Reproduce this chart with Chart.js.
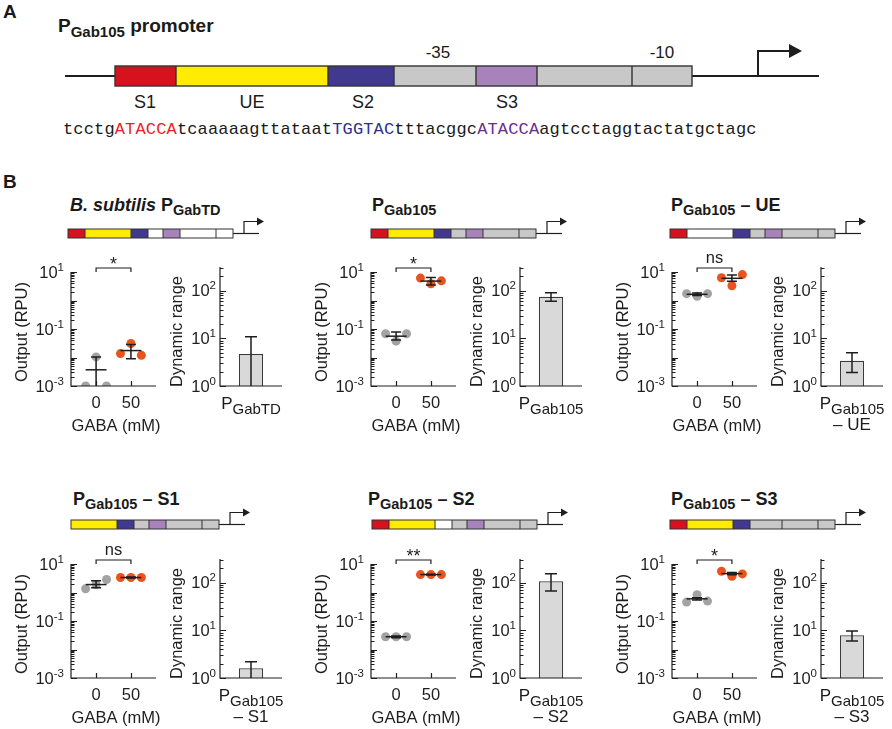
<!DOCTYPE html>
<html>
<head>
<meta charset="utf-8">
<title>PGab105 promoter variants</title>
<script src="https://cdn.jsdelivr.net/npm/chart.js@4.4.1/dist/chart.umd.min.js"></script>
<style>
  html, body { margin: 0; padding: 0; background: #fff; }
  #figure { position: relative; width: 892px; height: 729px; overflow: hidden;
    font-family: 'Liberation Sans', Arial, Helvetica, sans-serif; color: #1a1a1a; }
  #figure canvas, #figure svg, .lbl { position: absolute; }
  .lbl { white-space: nowrap; }
  .lo { position: relative; }
  .mono { font-family: 'Liberation Mono', 'Courier New', monospace; letter-spacing: 0.15px; }
</style>
</head>
<body>
<div id="figure">
  <svg id="diagrams" width="892" height="729" style="left:0;top:0"></svg>
</div>
<script>
// Values
const constructs = ['PGabTD', 'PGab105', 'PGab105 - UE', 'PGab105 - S1', 'PGab105 - S2', 'PGab105 - S3'];
const doses = [0, 50];
const out0 = [[0.001, 0.0105, 0.001], [0.068, 0.0375, 0.068], [1.74, 1.41, 1.74],
              [1.35, 1.91, 2.85], [0.028, 0.028, 0.028], [0.46, 0.83, 0.50]];
const out50 = [[0.0137, 0.031, 0.0119], [6.1, 3.85, 4.9], [6.3, 3.3, 8.1],
               [3.35, 3.35, 3.35], [4.26, 4.26, 4.26], [5.56, 3.72, 4.48]];
const mean0 = [0.0037, 0.056, 1.65, 1.9, 0.028, 0.6];
const mean50 = [0.0175, 4.8, 6.0, 3.35, 4.26, 4.6];
const errLow0 = [null, 0.041, 1.5, 1.47, 0.026, 0.55];
const errHigh0 = [0.0105, 0.078, 1.85, 2.6, 0.030, 0.66];
const errLow50 = [0.0091, 3.5, 4.7, 3.2, 4.1, 4.2];
const errHigh50 = [0.0286, 6.4, 7.8, 3.5, 4.4, 5.0];
const dynRange = [4.7, 75, 3.4, 1.6, 108, 7.9];
const dynLow = [null, 60, 1.93, null, 67, 6.0];
const dynHigh = [10.8, 91, 5.0, 2.2, 154, 9.7];
const signif = ['*', '*', 'ns', 'ns', '**', '*'];
const outTicks = [0.001, 0.1, 10];
const dynTicks = [1, 10, 100];
const dynAxisMax = 316;

// Construct maps (which element sits in each slot)
const constructParts = [
  ['S1', 'UE', 'S2', 'none', 'S3', 'none', 'none'],
  ['S1', 'UE', 'S2', 'core', 'S3', 'core', 'core'],
  ['S1', 'none', 'S2', 'core', 'S3', 'core', 'core'],
  [null, 'UE', 'S2', 'core', 'S3', 'core', 'core'],
  ['S1', 'UE', 'none', 'core', 'S3', 'core', 'core'],
  ['S1', 'UE', 'S2', 'core', '~core', 'core', 'core']
];
const sequence = [
  ['tcctg', null], ['ATACCA', '#ee1c24'], ['tcaaaaagttataat', null], ['TGGTAC', '#2e3192'],
  ['tttacggc', null], ['ATACCA', '#662d91'], ['agtcctaggtactatgctagc', null]
];

// Styling / layout
const INK = '#1e1e1e';
const FONT = "'Liberation Sans', Arial, Helvetica, sans-serif";
const GRAY_DOT = '#a3a3a3';
const ORANGE_DOT = '#e9531d';
const BAR_FILL = '#d9d9d9';
const PART_COLORS = { S1: '#d5121e', UE: '#ffec00', S2: '#41398f', S3: '#a882bb', core: '#c8c8c8', none: '#ffffff' };

const COL_X = [71, 371, 672];
const ROW_BOTTOM = [386, 678];
const OUT_W = 85, OUT_H = 114;
const DR_DX = 149, DR_W = 62, DR_H = 119;
const OUT_PAD = { left: 62, right: 8, top: 30, bottom: 52 };
const DR_PAD = { left: 54, right: 8, top: 30, bottom: 52 };
const X_MIN = -36, X_MAX = 86;
const JITTER = [-15, 0, 15];
const MEAN_HALF = 15;

const TITLE_X = [70, 372, 671, 73, 368, 671];
const TITLE_BASE = [211, 505];
const BOX_X = [68, 371, 670, 71, 372, 670];
const BOX_TOP = [229, 520];
const SEG_W = [17, 46, 17, 15, 17, 36, 17];

const fig = document.getElementById('figure');
const svg = document.getElementById('diagrams');

function label(html, x, baseline, size, opts = {}) {
    const el = document.createElement('div');
    el.className = 'lbl';
    el.innerHTML = html;
    el.style.fontSize = size + 'px';
    el.style.lineHeight = size + 'px';
    el.style.top = (baseline - 0.8465 * size) + 'px';
    el.style.left = x + 'px';
    if (opts.bold) el.style.fontWeight = 'bold';
    if (opts.center) el.style.transform = 'translateX(-50%)';
    if (opts.cls) el.classList.add(opts.cls);
    fig.appendChild(el);
    return el;
}

function sub(text, size, dy) {
    return '<span class="lo" style="font-size:' + size + 'px;top:' + dy + 'px">' + text + '</span>';
}

// Promoter schematics
function drawConstruct(x0, y0, h, widths, parts, sw, tail) {
    let s = '';
    let x = x0;
    const rects = [];
    parts.forEach((p, k) => {
        if (p === null) return;
        const joined = p.startsWith('~');
        const name = joined ? p.slice(1) : p;
        rects.push({ x: x, w: widths[k], fill: PART_COLORS[name], joined: joined });
        x += widths[k];
    });
    const x1 = x;
    const mid = y0 + h / 2;
    // backbone
    s += '<line x1="' + (x1) + '" y1="' + mid + '" x2="' + (x1 + tail.len) + '" y2="' + mid + '" stroke="' + INK + '" stroke-width="' + tail.lw + '"/>';
    if (tail.lead) {
        s += '<line x1="' + (x0 - tail.lead) + '" y1="' + mid + '" x2="' + x0 + '" y2="' + mid + '" stroke="' + INK + '" stroke-width="' + tail.lw + '"/>';
    }
    rects.forEach(r => {
        s += '<rect x="' + r.x + '" y="' + y0 + '" width="' + r.w + '" height="' + h + '" fill="' + r.fill + '"/>';
    });
    s += '<rect x="' + x0 + '" y="' + y0 + '" width="' + (x1 - x0) + '" height="' + h + '" fill="none" stroke="#333" stroke-width="' + sw + '"/>';
    rects.forEach((r, k) => {
        if (k === 0 || r.joined) return;
        s += '<line x1="' + r.x + '" y1="' + y0 + '" x2="' + r.x + '" y2="' + (y0 + h) + '" stroke="#333" stroke-width="' + sw + '"/>';
    });
    // transcription start arrow
    const ax = x1 + tail.stem;
    const ay = mid - tail.rise;
    s += '<polyline points="' + ax + ',' + mid + ' ' + ax + ',' + ay + ' ' + (x1 + tail.head) + ',' + ay + '" fill="none" stroke="' + INK + '" stroke-width="' + tail.lw + '"/>';
    s += '<polygon points="' + (x1 + tail.head) + ',' + (ay - tail.hh) + ' ' + (x1 + tail.tip) + ',' + ay + ' ' + (x1 + tail.head) + ',' + (ay + tail.hh) + '" fill="' + INK + '"/>';
    return s;
}

let svgContent = '';
svgContent += drawConstruct(115, 66, 20, [61, 152, 66, 82, 61, 95, 60], constructParts[1], 1.4,
    { len: 127, lead: 50, lw: 2, stem: 66, rise: 25, head: 97, tip: 110, hh: 7 });
constructParts.forEach((parts, i) => {
    const row = Math.floor(i / 3);
    svgContent += drawConstruct(BOX_X[i], BOX_TOP[row], 9, SEG_W, parts, 1,
        { len: 26, lead: 0, lw: 1.2, stem: 11, rise: 12, head: 24, tip: 31, hh: 4 });
});
svg.innerHTML = svgContent;

// Panel A texts
label('A', 3, 18, 19, { bold: true });
label('P' + sub('Gab105', 15, 5) + ' promoter', 58, 32, 19, { bold: true });
label('-35', 438, 58, 17, { center: true });
label('-10', 662, 58, 17, { center: true });
[['S1', 145], ['UE', 252], ['S2', 363], ['S3', 507]].forEach(p => label(p[0], p[1], 108, 18, { center: true }));
label(sequence.map(s => s[1] ? '<span style="color:' + s[1] + '">' + s[0] + '</span>' : s[0]).join(''), 63, 135, 17, { cls: 'mono' });

// Panel B texts
label('B', 3, 188, 19, { bold: true });
const titleHtml = [
    '<i>B. subtilis</i> P' + sub('GabTD', 14.5, 4),
    'P' + sub('Gab105', 14.5, 4),
    'P' + sub('Gab105', 14.5, 4) + ' – UE',
    'P' + sub('Gab105', 14.5, 4) + ' – S1',
    'P' + sub('Gab105', 14.5, 4) + ' – S2',
    'P' + sub('Gab105', 14.5, 4) + ' – S3'
];
const barLabel = [
    ['P' + sub('GabTD', 15, 5), ''],
    ['P' + sub('Gab105', 15, 5), ''],
    ['P' + sub('Gab105', 15, 5), '– UE'],
    ['P' + sub('Gab105', 15, 5), '– S1'],
    ['P' + sub('Gab105', 15, 5), '– S2'],
    ['P' + sub('Gab105', 15, 5), '– S3']
];

// Axis drawing helpers
function drawLogAxis(ctx, a, scale, labelTicks, gap) {
    ctx.beginPath();
    ctx.moveTo(a.left, a.top);
    ctx.lineTo(a.left, a.bottom);
    ctx.lineTo(a.right, a.bottom);
    const e0 = Math.floor(Math.log10(scale.min));
    const e1 = Math.floor(Math.log10(scale.max));
    for (let e = e0; e <= e1; e++) {
        for (let k = 1; k <= 9; k++) {
            const v = k * Math.pow(10, e);
            if (v > scale.max * 1.0001) break;
            const py = Math.round(scale.getPixelForValue(v)) + 0.5;
            ctx.moveTo(a.left, py);
            ctx.lineTo(a.left + (k === 1 ? 6 : 3.5), py);
        }
    }
    ctx.stroke();
    ctx.textAlign = 'right';
    ctx.textBaseline = 'alphabetic';
    labelTicks.forEach(v => {
        const py = scale.getPixelForValue(v);
        const exp = String(Math.round(Math.log10(v)));
        ctx.font = '11.5px ' + FONT;
        const sw = ctx.measureText(exp).width;
        ctx.fillText(exp, a.left - gap, py - 1.5);
        ctx.font = '16.5px ' + FONT;
        ctx.fillText('10', a.left - gap - sw, py + 5.5);
    });
}

function rotatedTitle(ctx, text, x, y) {
    ctx.save();
    ctx.translate(x, y);
    ctx.rotate(-Math.PI / 2);
    ctx.font = '16.5px ' + FONT;
    ctx.textAlign = 'center';
    ctx.textBaseline = 'middle';
    ctx.fillText(text, 0, 0);
    ctx.restore();
}

function errorBar(ctx, a, px, scale, lo, hi, cap) {
    const top = scale.getPixelForValue(hi);
    const bottom = lo === null ? a.bottom : scale.getPixelForValue(lo);
    ctx.beginPath();
    ctx.moveTo(px, bottom);
    ctx.lineTo(px, top);
    ctx.moveTo(px - cap, top);
    ctx.lineTo(px + cap, top);
    if (lo !== null) {
        ctx.moveTo(px - cap, bottom);
        ctx.lineTo(px + cap, bottom);
    }
    ctx.stroke();
}

function outputOverlay(i) {
    return {
        id: 'outputOverlay',
        afterDatasetsDraw(chart) {
            const { ctx, chartArea: a } = chart;
            const x = chart.scales.x, y = chart.scales.y;
            ctx.save();
            ctx.strokeStyle = INK;
            ctx.fillStyle = INK;

            // mean lines and error bars
            const groups = [
                [doses[0], mean0[i], errLow0[i], errHigh0[i]],
                [doses[1], mean50[i], errLow50[i], errHigh50[i]]
            ];
            ctx.lineWidth = 1.5;
            groups.forEach(g => {
                const py = y.getPixelForValue(g[1]);
                ctx.beginPath();
                ctx.moveTo(x.getPixelForValue(g[0] - MEAN_HALF), py);
                ctx.lineTo(x.getPixelForValue(g[0] + MEAN_HALF), py);
                ctx.stroke();
                errorBar(ctx, a, x.getPixelForValue(g[0]), y, g[2], g[3], 5);
            });

            ctx.lineWidth = 1.2;
            drawLogAxis(ctx, a, y, outTicks, 7);

            // x ticks and labels
            ctx.beginPath();
            doses.forEach(d => {
                const px = Math.round(x.getPixelForValue(d)) + 0.5;
                ctx.moveTo(px, a.bottom);
                ctx.lineTo(px, a.bottom - 5);
            });
            ctx.stroke();
            ctx.font = '16.5px ' + FONT;
            ctx.textAlign = 'center';
            doses.forEach(d => ctx.fillText(String(d), x.getPixelForValue(d), a.bottom + 22));
            ctx.fillText('GABA (mM)', a.left + 45, a.bottom + 45);
            rotatedTitle(ctx, 'Output (RPU)', a.left - 49, (a.top + a.bottom) / 2 + 3);

            // significance bracket
            const bx0 = x.getPixelForValue(doses[0]), bx1 = x.getPixelForValue(doses[1]);
            const by = a.top - 4;
            ctx.beginPath();
            ctx.moveTo(bx0, by + 4);
            ctx.lineTo(bx0, by);
            ctx.lineTo(bx1, by);
            ctx.lineTo(bx1, by + 4);
            ctx.stroke();
            const isStar = signif[i].indexOf('*') >= 0;
            ctx.font = (isStar ? '18px ' : '16.5px ') + FONT;
            ctx.fillText(signif[i], (bx0 + bx1) / 2, isStar ? by + 2 : by - 5);
            ctx.restore();
        }
    };
}

function rangeOverlay(i) {
    return {
        id: 'rangeOverlay',
        afterDatasetsDraw(chart) {
            const { ctx, chartArea: a } = chart;
            const x = chart.scales.x, y = chart.scales.y;
            ctx.save();
            ctx.strokeStyle = INK;
            ctx.fillStyle = INK;
            ctx.lineWidth = 1.5;
            errorBar(ctx, a, x.getPixelForValue(0), y, dynLow[i], dynHigh[i], 6);
            ctx.lineWidth = 1.2;
            drawLogAxis(ctx, a, y, dynTicks, 4);
            rotatedTitle(ctx, 'Dynamic range', a.left - 43, (a.top + a.bottom) / 2 + 5);
            ctx.restore();
        }
    };
}

function makeCanvas(left, top, w, h) {
    const c = document.createElement('canvas');
    c.width = w;
    c.height = h;
    c.style.left = left + 'px';
    c.style.top = top + 'px';
    c.style.width = w + 'px';
    c.style.height = h + 'px';
    fig.appendChild(c);
    return c;
}

const commonOptions = {
    responsive: false,
    animation: false,
    events: [],
    plugins: { legend: { display: false }, tooltip: { enabled: false } }
};

constructs.forEach((name, i) => {
    const col = i % 3, row = Math.floor(i / 3);
    const ax = COL_X[col], bottom = ROW_BOTTOM[row];

    label(titleHtml[i], TITLE_X[i], TITLE_BASE[row], 18, { bold: true });

    // Output scatter
    const c1 = makeCanvas(ax - OUT_PAD.left, bottom - OUT_H - OUT_PAD.top,
        OUT_PAD.left + OUT_W + OUT_PAD.right, OUT_PAD.top + OUT_H + OUT_PAD.bottom);
    new Chart(c1, {
        type: 'scatter',
        data: {
            datasets: [
                { data: out0[i].map((v, k) => ({ x: doses[0] + JITTER[k], y: v })), backgroundColor: GRAY_DOT,
                  clip: { left: 8, top: 8, right: 8, bottom: 0 } },
                { data: out50[i].map((v, k) => ({ x: doses[1] + JITTER[k], y: v })), backgroundColor: ORANGE_DOT,
                  clip: { left: 8, top: 8, right: 8, bottom: 0 } }
            ]
        },
        options: Object.assign({}, commonOptions, {
            layout: { padding: OUT_PAD },
            elements: { point: { radius: 4.5, hoverRadius: 4.5, borderWidth: 0 } },
            scales: {
                x: { type: 'linear', min: X_MIN, max: X_MAX, display: false },
                y: { type: 'logarithmic', min: outTicks[0], max: outTicks[outTicks.length - 1], display: false }
            }
        }),
        plugins: [outputOverlay(i)]
    });

    // Dynamic range bar
    const bx = ax + DR_DX;
    const c2 = makeCanvas(bx - DR_PAD.left, bottom - DR_H - DR_PAD.top,
        DR_PAD.left + DR_W + DR_PAD.right, DR_PAD.top + DR_H + DR_PAD.bottom);
    new Chart(c2, {
        type: 'bar',
        data: {
            labels: [name],
            datasets: [{
                data: [dynRange[i]],
                backgroundColor: BAR_FILL,
                borderColor: '#3a3a3a',
                borderWidth: 1.2,
                borderSkipped: 'start',
                barPercentage: 0.39,
                categoryPercentage: 1
            }]
        },
        options: Object.assign({}, commonOptions, {
            layout: { padding: DR_PAD },
            scales: {
                x: { type: 'category', display: false },
                y: { type: 'logarithmic', min: dynTicks[0], max: dynAxisMax, display: false }
            }
        }),
        plugins: [rangeOverlay(i)]
    });

    label(barLabel[i][0], bx + DR_W / 2, bottom + 23, 17, { center: true });
    if (barLabel[i][1]) label(barLabel[i][1], bx + DR_W / 2, bottom + 44, 17, { center: true });
});
</script>
</body>
</html>
